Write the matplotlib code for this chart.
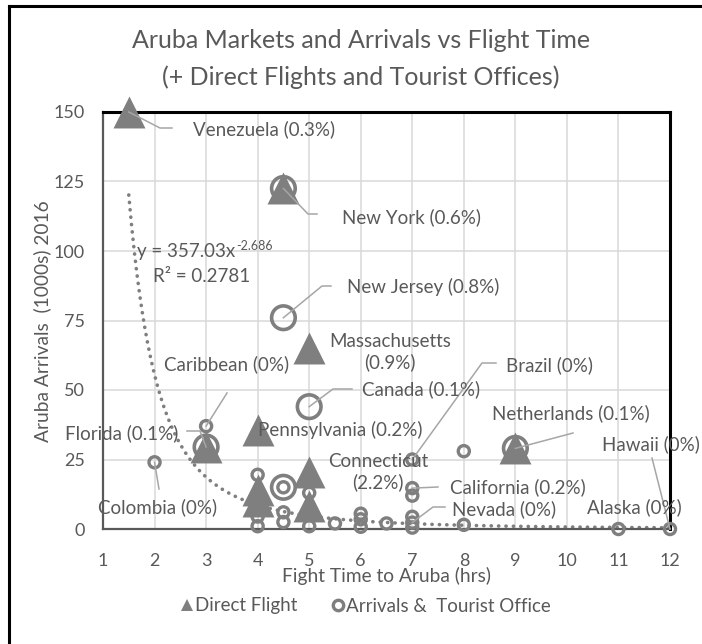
import matplotlib
matplotlib.use("Agg")
import matplotlib.pyplot as plt
from matplotlib.lines import Line2D
import numpy as np

plt.rcParams['font.family'] = ['Lato', 'DejaVu Sans']

GREY = '#7f7f7f'
TEXT = '#595959'
GRID = '#d9d9d9'
LEADER = '#a6a6a6'

# ---- data: flight time (hrs) vs arrivals (1000s, 2016) ----
direct_hours = [1.5, 4.5, 5, 3, 4, 5, 4, 4, 5, 9]
direct_arrivals = [150, 122.5, 65, 29.5, 35.5, 20.5, 14, 10, 8.3, 29]

office_hours = [4.5, 4.5, 5, 3, 9, 4.5]
office_arrivals = [122.5, 76, 44, 29.5, 29, 15]

market_hours = [2, 3, 4, 4, 4, 4.5, 4.5, 4.5, 5, 5, 5.5, 6, 6, 6, 6.5,
                7, 7, 7, 7, 7, 7, 8, 8, 11, 12]
market_arrivals = [24, 37, 19.5, 4.5, 1, 15, 6, 2.5, 13, 1, 2, 5.5, 3.5, 0.8, 2,
                   25, 14.7, 12, 4.4, 2.3, 0.5, 28, 1.5, 0, 0]

# power trendline y = a * x^b
trend_coef = 357.03
trend_exp = -2.686
trend_r2 = 0.2781

label_names = ["Venezuela", "New York", "New Jersey", "Massachusetts", "Canada",
               "Brazil", "Netherlands", "Hawaii", "Alaska", "California",
               "Connecticut", "Nevada", "Colombia", "Florida", "Caribbean",
               "Pennsylvania"]
label_shares = ["0.3%", "0.6%", "0.8%", "0.9%", "0.1%", "0%", "0.1%", "0%", "0%",
                "0.2%", "2.2%", "0%", "0%", "0.1%", "0%", "0.2%"]
label_hours = [1.5, 4.5, 4.5, 5, 5, 7, 9, 12, 11, 7, 7, 7, 2, 3, 3, 4]
label_arrivals = [150, 122.5, 76, 65, 44, 25, 29, 0, 0, 14.7, 12, 2.3, 24, 29.5, 37, 35.5]

x_ticks = list(range(1, 13))
y_ticks = [0, 25, 50, 75, 100, 125, 150]

# ---- figure layout (pixel based) ----
W, H = 702, 644
AX_L, AX_R, AX_T, AX_B = 103, 670, 112, 529
XMIN, XMAX, YMIN, YMAX = 1, 12, 0, 150
LABEL_FS = 13.5

fig = plt.figure(figsize=(W / 100, H / 100), dpi=100)
ax = fig.add_axes([AX_L / W, 1 - AX_B / H, (AX_R - AX_L) / W, (AX_B - AX_T) / H])


def px2data(xp, yp):
    x = XMIN + (xp - AX_L) * (XMAX - XMIN) / (AX_R - AX_L)
    y = YMIN + (AX_B - yp) * (YMAX - YMIN) / (AX_B - AX_T)
    return x, y


def fig_xy(xp, yp):
    return xp / W, 1 - yp / H


ax.set_xlim(XMIN, XMAX)
ax.set_ylim(YMIN, YMAX)
ax.set_xticks(x_ticks)
ax.set_yticks(y_ticks)
ax.grid(True, color=GRID, lw=1.1, zorder=0)
ax.set_axisbelow(True)
ax.tick_params(length=0, labelsize=13, labelcolor=TEXT)
ax.tick_params(axis='y', pad=13)
ax.tick_params(axis='x', pad=17)
for s in ('top', 'right'):
    ax.spines[s].set_color('black')
    ax.spines[s].set_linewidth(2.2)
for s in ('left', 'bottom'):
    ax.spines[s].set_color('#595959')
    ax.spines[s].set_linewidth(1.6)

# trendline
tx = np.linspace(min(direct_hours + market_hours), max(market_hours), 400)
ax.plot(tx, trend_coef * tx ** trend_exp, color=GREY, lw=2.6,
        linestyle=(0, (0.05, 2.0)), dash_capstyle='round', zorder=2, clip_on=False)

# markers
ax.scatter(direct_hours, direct_arrivals, marker='^', s=23 ** 2, color=GREY,
           linewidths=0, zorder=3, clip_on=False)
ax.scatter(office_hours, office_arrivals, marker='o', s=17 ** 2, facecolors='none',
           edgecolors=GREY, linewidths=2.6, zorder=4, clip_on=False)
ax.scatter(market_hours, market_arrivals, marker='o', s=8 ** 2, facecolors='none',
           edgecolors=GREY, linewidths=2.4, zorder=5, clip_on=False)

# data labels: text anchor (px), alignment, leader elbow points (px)
label_layout = {
    "Venezuela": ((193, 129), 'left', [(160, 128), (172, 128)]),
    "New York": ((342, 217), 'left', [(308, 214), (317, 214)]),
    "New Jersey": ((347, 287), 'left', [(322, 286), (331, 286)]),
    "Massachusetts": ((390, 352), 'center', None),
    "Canada": ((362, 389), 'left', [(333, 389), (352, 389)]),
    "Brazil": ((506, 365), 'left', [(482, 363), (496, 363)]),
    "Netherlands": ((571, 413), 'center', [(573, 433)]),
    "Hawaii": ((602, 444), 'left', [(652, 458)]),
    "Alaska": ((634, 507), 'center', None),
    "California": ((450, 487), 'left', [(438, 487)]),
    "Connecticut": ((378, 472), 'center', None),
    "Nevada": ((452, 509), 'left', [(433, 507), (445, 507)]),
    "Colombia": ((158, 507), 'center', [(159, 489)]),
    "Florida": ((178, 433), 'right', [(200, 431), (187, 431)]),
    "Caribbean": ((227, 364), 'center', [(227, 393)]),
    "Pennsylvania": ((258, 430), 'left', None),
}
wrapped = {"Massachusetts", "Connecticut"}

for name, share, hx, ay in zip(label_names, label_shares, label_hours, label_arrivals):
    (xp, yp), ha, leader = label_layout[name]
    tx_, ty_ = px2data(xp, yp)
    sep = "\n" if name in wrapped else " "
    ax.text(tx_, ty_, f"{name}{sep}({share})", ha=ha, va='center', fontsize=LABEL_FS,
            color=TEXT, zorder=7, clip_on=False, multialignment='center',
            linespacing=1.2)
    if leader:
        pts = [(hx, ay)] + [px2data(*p) for p in leader]
        ax.plot([p[0] for p in pts], [p[1] for p in pts], color=LEADER, lw=1.1,
                zorder=6, clip_on=False)

# trendline equation
ex, ey = px2data(137, 252)
eq = ax.text(ex, ey, f"y = {trend_coef:.2f}x", ha='left', va='center',
             fontsize=LABEL_FS, color=TEXT, zorder=7)
fig.canvas.draw()
bb = eq.get_window_extent()
ax.text(bb.x1 + 1, H - 246, f"{trend_exp:.3f}", ha='left', va='center', fontsize=9,
        color=TEXT, zorder=7, transform=None)
rx, ry = px2data(153, 277)
ax.text(rx, ry, f"R\u00b2 = {trend_r2:.4f}", ha='left', va='center', fontsize=LABEL_FS,
        color=TEXT, zorder=7)

# titles and axis labels
fig.text(*fig_xy(361, 40), "Aruba Markets and Arrivals vs Flight Time", ha='center',
         va='center', fontsize=18, color=TEXT)
fig.text(*fig_xy(361, 77), "(+ Direct Flights and Tourist Offices)", ha='center',
         va='center', fontsize=18, color=TEXT)
fig.text(*fig_xy(42, 321), "Aruba Arrivals  (1000s) 2016", rotation=90, ha='center',
         va='center', fontsize=13.8, color=TEXT)
fig.text(*fig_xy(386, 576), "Fight Time to Aruba (hrs)", ha='center', va='center',
         fontsize=13.8, color=TEXT)

# legend
handles = [
    Line2D([], [], marker='^', color=GREY, ls='none', ms=8.5, mew=0),
    Line2D([], [], marker='o', mfc='none', mec=GREY, mew=2.4, ls='none', ms=7.5),
]
fig.legend(handles, ["Direct Flight", "Arrivals &  Tourist Office"], loc='center',
           bbox_to_anchor=fig_xy(366, 606), ncol=2, frameon=False,
           handlelength=0.6, handletextpad=0.1, columnspacing=1.9,
           fontsize=13.5, labelcolor=TEXT)

# chart frame (left and top edges)
fig.add_artist(Line2D([9 / W, 9 / W], [0, 1 - 6 / H], transform=fig.transFigure,
                      color='black', lw=2.2))
fig.add_artist(Line2D([9 / W, 1], [1 - 6 / H, 1 - 6 / H], transform=fig.transFigure,
                      color='black', lw=2.2))

fig.savefig("out.png", dpi=100)
